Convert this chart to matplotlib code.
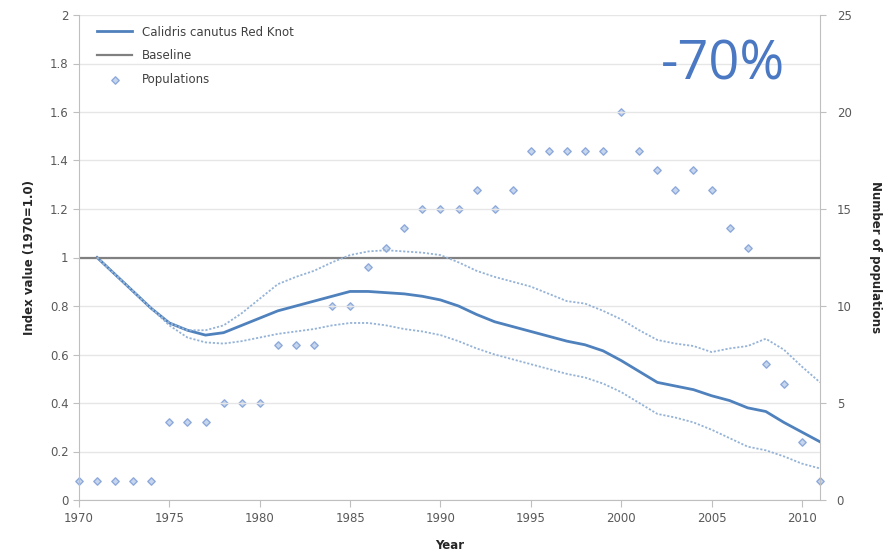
import matplotlib.pyplot as plt

years = list(range(1970, 2012))
line_years = list(range(1971, 2012))

index_mid = [1.0, 0.93, 0.86, 0.79, 0.73, 0.70, 0.68, 0.69, 0.72, 0.75,
             0.78, 0.80, 0.82, 0.84, 0.86, 0.86, 0.855, 0.85, 0.84, 0.825,
             0.80, 0.765, 0.735, 0.715, 0.695, 0.675, 0.655, 0.64, 0.615, 0.575,
             0.53, 0.485, 0.47, 0.455, 0.43, 0.41, 0.38, 0.365, 0.32, 0.28, 0.24]
index_upper = [1.0, 0.93, 0.86, 0.79, 0.73, 0.70, 0.70, 0.72, 0.77, 0.83,
               0.89, 0.92, 0.945, 0.98, 1.01, 1.025, 1.03, 1.025, 1.02, 1.01,
               0.98, 0.945, 0.92, 0.90, 0.88, 0.85, 0.82, 0.81, 0.78, 0.745,
               0.70, 0.66, 0.645, 0.635, 0.61, 0.625, 0.635, 0.665, 0.62, 0.55, 0.485]
index_lower = [1.0, 0.93, 0.86, 0.79, 0.72, 0.67, 0.65, 0.645, 0.655, 0.67,
               0.685, 0.695, 0.705, 0.72, 0.73, 0.73, 0.72, 0.705, 0.695, 0.68,
               0.655, 0.625, 0.60, 0.58, 0.56, 0.54, 0.52, 0.505, 0.48, 0.445,
               0.40, 0.355, 0.34, 0.32, 0.29, 0.255, 0.22, 0.205, 0.18, 0.15, 0.13]
populations = [1, 1, 1, 1, 1, 4, 4, 4, 5, 5,
               5, 8, 8, 8, 10, 10, 12, 13, 14, 15,
               15, 15, 16, 15, 16, 18, 18, 18, 18, 18,
               20, 18, 17, 16, 17, 16, 14, 13, 7, 6,
               3, 1]

main_color = "#4f81bd"
ci_color = "#95b3d7"
tick_color = "#595959"

fig = plt.figure(figsize=(8.95, 5.54), dpi=100)
ax = fig.add_axes([79 / 895, 54 / 554, 741 / 895, 485 / 554])
ax2 = ax.twinx()

ax.set_zorder(ax2.get_zorder() + 1)
ax.patch.set_visible(False)

ax.set_ylim(0, 2)
ax.set_xlim(1970, 2011)
ax2.set_ylim(0, 25)

ax.set_yticks([i * 0.2 for i in range(11)])
ax.set_yticklabels(["0", "0.2", "0.4", "0.6", "0.8", "1", "1.2", "1.4", "1.6", "1.8", "2"])
ax.set_xticks(range(1970, 2011, 5))
ax2.set_yticks(range(0, 26, 5))

ax.grid(True, axis="y", color="#e6e6e6", lw=1)
ax.set_axisbelow(True)

ax.plot(line_years, index_mid, color=main_color, lw=2, label="Calidris canutus Red Knot")
ax.axhline(1.0, color="#808080", lw=1.6, label="Baseline")
ax.plot(line_years, index_upper, color=ci_color, lw=1.3, ls=(0, (1.2, 1)))
ax.plot(line_years, index_lower, color=ci_color, lw=1.3, ls=(0, (1.2, 1)))
pts = ax2.scatter(years, populations, marker="D", s=14, facecolor="#c6d6ec",
                  edgecolor="#8eaadb", linewidths=1, label="Populations", clip_on=False)

for a in (ax, ax2):
    a.spines["top"].set_visible(False)
    a.tick_params(labelsize=8.5, colors=tick_color, length=4)
ax.spines["left"].set_color("#bfbfbf")
ax.spines["bottom"].set_color("#bfbfbf")
ax.spines["right"].set_visible(False)
ax2.spines["left"].set_visible(False)
ax2.spines["bottom"].set_visible(False)
ax2.spines["right"].set_color("#bfbfbf")
ax.tick_params(axis="y", color="#bfbfbf", length=4)
ax.tick_params(axis="x", color="#bfbfbf", length=5)
ax2.tick_params(axis="y", color="#bfbfbf", length=4, pad=8)

ax.set_ylabel("Index value (1970=1.0)", fontsize=8.5, fontweight="bold", color="#262626", labelpad=10)
ax2.set_ylabel("Number of populations", fontsize=8.5, fontweight="bold", color="#262626",
               rotation=270, labelpad=22)
ax.set_xlabel("Year", fontsize=8.5, fontweight="bold", color="#262626", labelpad=10)

h1, l1 = ax.get_legend_handles_labels()
ax.legend(h1 + [pts], l1 + ["Populations"], loc="upper left", frameon=False, fontsize=8.5,
          handlelength=3, bbox_to_anchor=(0.01, 1.0), labelspacing=0.9, labelcolor="#404040")

ax.text(0.953, 0.897, "-70%", transform=ax.transAxes, fontsize=39, color="#4a78c2",
        ha="right", va="center", family="Open Sans")

fig.savefig("out.png", dpi=100)
